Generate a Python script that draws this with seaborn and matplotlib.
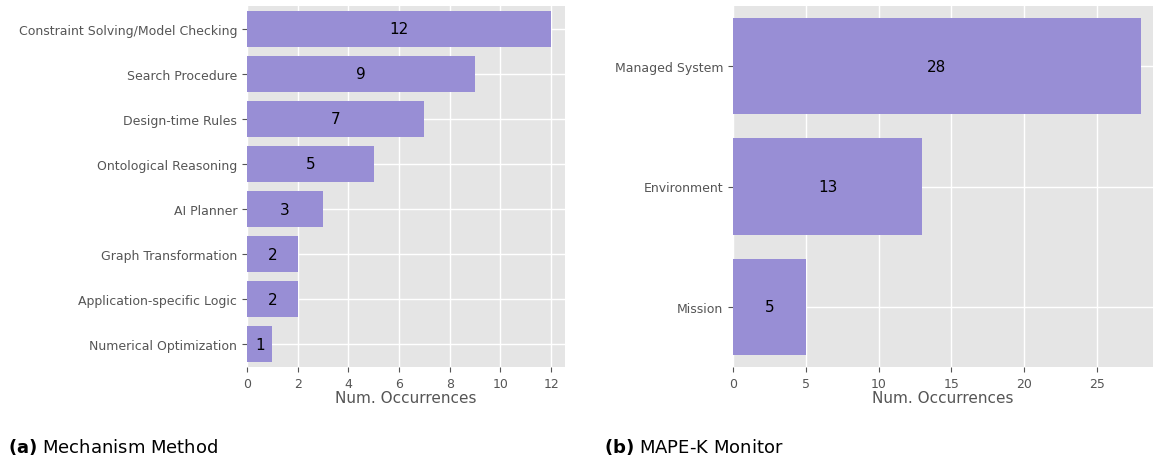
import matplotlib
matplotlib.use("Agg")
import matplotlib.pyplot as plt
import seaborn as sns
import pandas as pd

# Data
mechanism_labels = ["Constraint Solving/Model Checking", "Search Procedure", "Design-time Rules",
                    "Ontological Reasoning", "AI Planner", "Graph Transformation",
                    "Application-specific Logic", "Numerical Optimization"]
mechanism_counts = [12, 9, 7, 5, 3, 2, 2, 1]

monitor_labels = ["Managed System", "Environment", "Mission"]
monitor_counts = [28, 13, 5]

bar_color = "#988ED5"

plt.style.use("ggplot")
plt.rcParams["font.family"] = ["DejaVu Sans"]

fig = plt.figure(figsize=(11.53, 4.6), dpi=100)
ax1 = fig.add_axes([247 / 1153, 1 - 368 / 460, (565 - 247) / 1153, 361 / 460])
ax2 = fig.add_axes([733 / 1153, 1 - 368 / 460, (1153 - 733) / 1153, 361 / 460])


def draw(ax, labels, counts, xmax, ticks):
    df = pd.DataFrame({"label": labels, "count": counts})
    sns.barplot(data=df, x="count", y="label", color=bar_color, width=0.8,
                saturation=1, ax=ax)
    ax.bar_label(ax.containers[0], label_type="center", fontsize=11, color="black")
    ax.set_xlim(0, xmax)
    ax.set_xticks(ticks)
    ax.set_ylabel("")
    ax.set_xlabel("Num. Occurrences", fontsize=11, color="#555555", labelpad=0)
    ax.tick_params(axis="both", labelsize=9, colors="#555555")
    ax.grid(True, color="white", linewidth=1)
    ax.set_axisbelow(True)
    for s in ax.spines.values():
        s.set_visible(False)


draw(ax1, mechanism_labels, mechanism_counts, 12.55, range(0, 13, 2))
draw(ax2, monitor_labels, monitor_counts, 28.85, range(0, 30, 5))

fig.text(8 / 1153, 1 - 447 / 460, r"$\bf{(a)}$ Mechanism Method", fontsize=13,
         va="center", ha="left", color="black")
fig.text(604 / 1153, 1 - 447 / 460, r"$\bf{(b)}$ MAPE-K Monitor", fontsize=13,
         va="center", ha="left", color="black")

fig.savefig("out.png", dpi=100)
